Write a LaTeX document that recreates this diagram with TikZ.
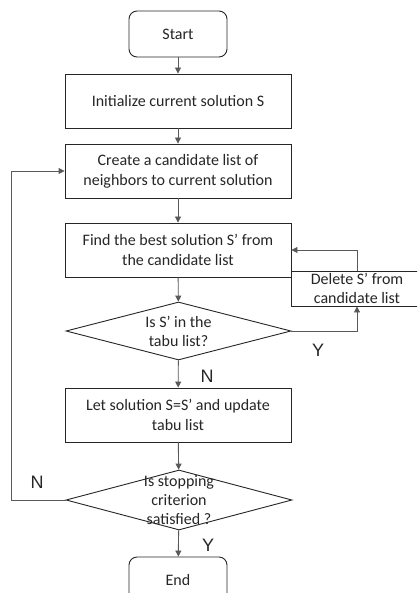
\documentclass[tikz,border=0pt]{standalone}
\usepackage{fontspec}
\setmainfont{Carlito}
\newfontfamily\labfont{Liberation Sans}
\usetikzlibrary{shapes.geometric,arrows.meta}
\begin{document}
\begin{tikzpicture}[x=1pt,y=-1pt,
  txt/.style={font=\fontsize{16}{20}\selectfont, text=black!85},
  box/.style={txt, draw=black!85, line width=0.9pt, minimum width=226pt, minimum height=54pt, align=center, inner sep=0pt},
  term/.style={box, minimum width=98pt, minimum height=46pt, rounded corners=8pt},
  dec/.style={diamond, draw=black!85, line width=0.9pt, inner sep=0pt},
  conn/.style={draw=black!65, line width=0.9pt, -{Triangle[width=6pt,length=6pt]}},
  yn/.style={font=\labfont\fontsize{18}{20}\selectfont, text=black!85}]
\useasboundingbox (0,0) rectangle (417,593);
\clip (0,0) rectangle (417,593);
\fill[white] (0,0) rectangle (417,593);

\node[term] (start) at (178,34) {Start};
\node[box] (init) at (178,101) {Initialize current solution S};
\node[box] (create) at (178,171) {Create a candidate list of\\neighbors to current solution};
\node[box] (find) at (178,250) {Find the best solution S’ from\\the candidate list};
\node[box, minimum width=132pt, minimum height=35pt, font=\fontsize{16}{19}\selectfont] (del) at (357,288.5) {Delete S’ from\\candidate list};
\node[dec, minimum width=225pt, minimum height=58pt,
  label={[txt, align=center, font=\fontsize{16}{19}\selectfont]center:Is S’ in the\\tabu list?}] (d1) at (178.5,331) {};
\node[box] (let) at (178,415) {Let solution S=S’ and update\\tabu list};
\node[dec, minimum width=226pt, minimum height=60pt,
  label={[txt, align=center, font=\fontsize{16}{19}\selectfont]center:Is stopping\\criterion\\satisfied ?}] (d2) at (179,500) {};
\node[term] (end) at (178,580) {End};

\draw[conn] (start) -- (init);
\draw[conn] (init) -- (create);
\draw[conn] (create) -- (find);
\draw[conn] (find) -- (d1);
\draw[conn] (d1) -- (let);
\draw[conn] (let) -- (d2);
\draw[conn] (d2) -- (end);
\draw[conn] (d1.east) -| (del.south);
\draw[conn] (del.north) |- (find.east);
\draw[conn] (d2.west) -- ++(-54,0) |- (create.west);

\node[yn] (y1) at (318,350) {Y};
\node[yn] (n1) at (207,376) {N};
\node[yn] (n2) at (37,482) {N};
\node[yn] (y2) at (208,545) {Y};
\end{tikzpicture}
\end{document}
